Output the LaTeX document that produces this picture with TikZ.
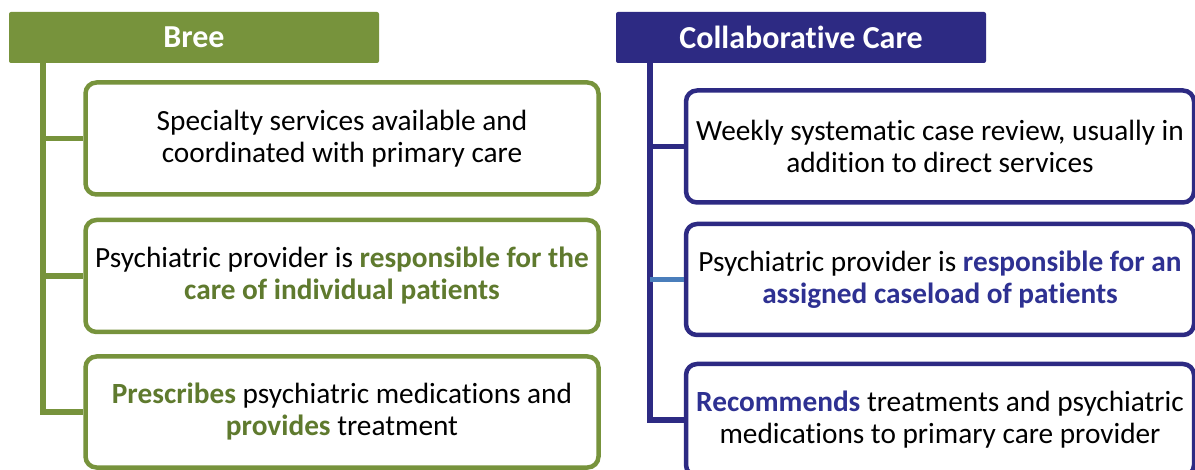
\documentclass[tikz,border=0pt]{standalone}
\usepackage{fontspec}
\setmainfont[Ligatures={NoCommon}]{Carlito}
\definecolor{olive}{HTML}{77933C}
\definecolor{olivetext}{HTML}{5F7A2E}
\definecolor{navy}{HTML}{2D2A83}
\definecolor{navytext}{HTML}{2E3192}
\definecolor{steel}{HTML}{4A7EBB}
\newcommand{\gb}[1]{\textcolor{olivetext}{\bfseries #1}}
\newcommand{\nb}[1]{\textcolor{navytext}{\bfseries #1}}
\begin{document}
\begin{tikzpicture}[x=1pt,y=-1pt,
  header/.style={rectangle, rounded corners=2pt, minimum width=370pt, minimum height=51pt,
    inner sep=0pt, text=white, font=\fontsize{32}{36}\selectfont\bfseries},
  itembox/.style={rectangle, draw, fill=white, line width=4.5pt, rounded corners=11pt,
    inner sep=0pt, align=center, font=\fontsize{29.3}{32}\selectfont},
  gbox/.style={itembox, draw=olive, minimum width=513pt},
  nbox/.style={itembox, draw=navy, minimum width=508pt},
  spine/.style={line width=5.5pt},
]
\useasboundingbox (0,0) rectangle (1195,470);
\clip (0,0) rectangle (1195,470);

% Bree column
\node[header, fill=olive] (gh) at (194,37.5) {Bree};
\node[gbox, minimum height=112pt] (g1) at (342,138.5)
  {Specialty services available and\\coordinated with primary care};
\node[gbox, minimum height=112pt] (g2) at (342,276)
  {Psychiatric provider is \gb{responsible for the}\\\gb{care of individual patients}};
\node[gbox, minimum height=111pt] (g3) at (342,412)
  {\gb{Prescribes} psychiatric medications and\\\gb{provides} treatment};
\coordinate (gtop) at (43,63);
\draw[spine, olive] (gtop) |- (g3.west);
\draw[spine, olive] (gtop |- g1.west) -- (g1.west);
\draw[spine, olive] (gtop |- g2.west) -- (g2.west);

% Collaborative Care column
\node[header, fill=navy] (nh) at (801,37.5) {Collaborative Care};
\node[nbox, minimum height=112pt] (n1) at (940,146.5)
  {Weekly systematic case review, usually in\\addition to direct services};
\node[nbox, minimum height=111pt] (n2) at (940,279.5)
  {Psychiatric provider is \nb{responsible for an}\\\nb{assigned caseload of patients}};
\node[nbox, minimum height=112pt] (n3) at (940,420)
  {\nb{Recommends} treatments and psychiatric\\medications to primary care provider};
\coordinate (ntop) at (650,63);
\draw[spine, navy] (ntop) |- (n3.west);
\draw[spine, navy] (ntop |- n1.west) -- (n1.west);
\draw[spine, steel] (ntop |- n2.west) -- (n2.west);
\end{tikzpicture}
\end{document}
